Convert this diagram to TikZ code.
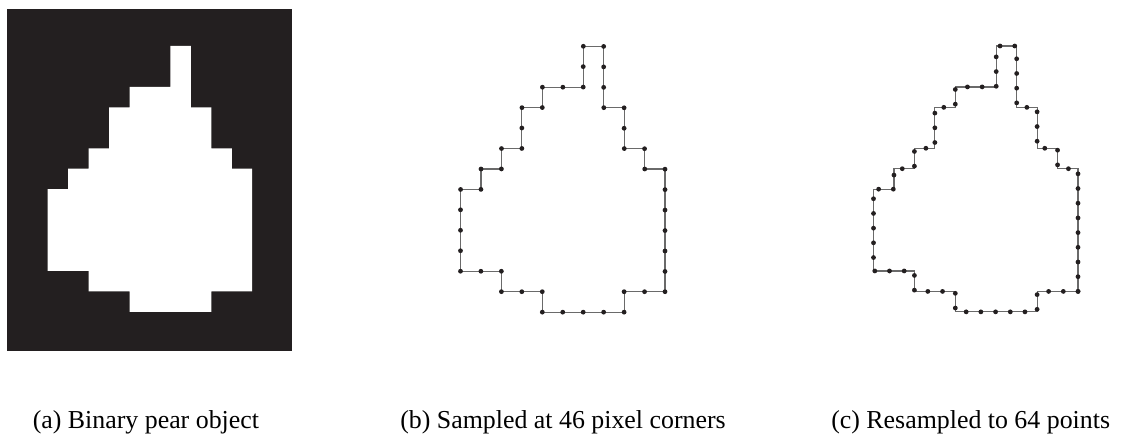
\documentclass[tikz,border=0pt]{standalone}
\usepackage{fontspec}
\setmainfont{Liberation Serif}
\usepackage{tikz}
\usetikzlibrary{decorations.markings}
\definecolor{ink}{HTML}{231F20}
\definecolor{edgegray}{HTML}{6A6A6A}
\tikzset{
  bgbox/.style={fill=ink},
  pearfill/.style={fill=white},
  outline/.style={draw=edgegray,line width=0.3mm},
  captext/.style={font=\fontsize{18.4}{22}\selectfont,anchor=base west,inner sep=0pt},
  pts/.style={postaction={decorate,decoration={markings,
      mark=between positions 0 and 1 step #1 with {\fill[ink] (0,0) circle (0.6mm);}}}},
  cell/.style={x=5.1125mm,y=-5.1125mm},
}
% pear boundary on the pixel grid, starting at the lower right corner
\newcommand{\pearpath}{(10,12) -- (8,12) -- (8,13) -- (4,13) -- (4,12) -- (2,12)
  -- (2,11) -- (0,11) -- (0,7) -- (1,7) -- (1,6) -- (2,6) -- (2,5) -- (3,5)
  -- (3,3) -- (4,3) -- (4,2) -- (6,2) -- (6,0) -- (7,0) -- (7,3) -- (8,3)
  -- (8,5) -- (9,5) -- (9,6) -- (10,6) -- cycle}

\begin{document}
\begin{tikzpicture}[x=0.25mm,y=-0.25mm]
  \useasboundingbox (0,0) rectangle (1134,435);

  % (a) binary image
  \fill[bgbox] (7,9) rectangle (292,351);
  \begin{scope}[shift={(47.7,46)},cell]
    \fill[pearfill] \pearpath;
  \end{scope}

  % (b) the 46 corners
  \begin{scope}[shift={(460.5,46.3)},cell]
    \draw[outline,pts=0.0217391] \pearpath;
  \end{scope}

  % (c) 64 points along the boundary
  \begin{scope}[shift={(873.5,46)},cell]
    \draw[outline,pts=0.015625] \pearpath;
  \end{scope}

  \node[captext] (capA) at (32.5,428) {(a) Binary pear object};
  \node[captext] (capB) at (400,428) {(b) Sampled at 46 pixel corners};
  \node[captext] (capC) at (831,428) {(c) Resampled to 64 points};
\end{tikzpicture}
\end{document}
